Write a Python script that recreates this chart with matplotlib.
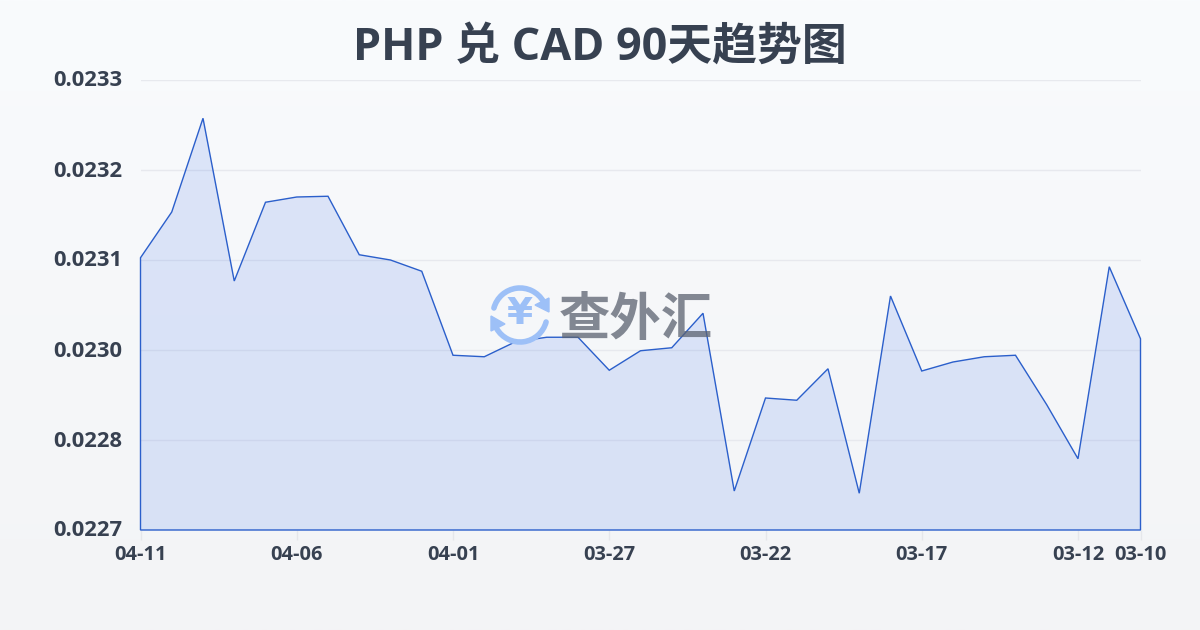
import numpy as np
import matplotlib
matplotlib.use('Agg')
import matplotlib.pyplot as plt
from matplotlib.patches import Arc, Polygon
from matplotlib.transforms import ScaledTranslation

plt.rcParams['font.family'] = ['Open Sans', 'Noto Sans CJK SC', 'DejaVu Sans']

dates = ['04-11', '04-10', '04-09', '04-08', '04-07', '04-06', '04-05', '04-04', '04-03', '04-02', '04-01',
         '03-31', '03-30', '03-29', '03-28', '03-27', '03-26', '03-25', '03-24', '03-23', '03-22',
         '03-21', '03-20', '03-19', '03-18', '03-17', '03-16', '03-15', '03-14', '03-13', '03-12',
         '03-11', '03-10']
rates = [0.023063, 0.023124, 0.023249, 0.023032, 0.023137, 0.023144, 0.023145, 0.023067, 0.023060,
         0.023045, 0.022933, 0.022931, 0.022951, 0.022957, 0.022957, 0.022913, 0.022939, 0.022943,
         0.022989, 0.022752, 0.022876, 0.022873, 0.022915, 0.022749, 0.023012, 0.022912, 0.022924,
         0.022931, 0.022933, 0.022867, 0.022795, 0.023051, 0.022955]
y_ticks = [0.0227, 0.02282, 0.02294, 0.02306, 0.02318, 0.0233]
y_labels = ['0.0227', '0.0228', '0.0230', '0.0231', '0.0232', '0.0233']
x_ticks = ['04-11', '04-06', '04-01', '03-27', '03-22', '03-17', '03-12', '03-10']

W, H = 1200, 630
fig = plt.figure(figsize=(W / 100, H / 100), dpi=100)

# page background
bg = fig.add_axes([0, 0, 1, 1], zorder=0)
top = np.array([0xf9, 0xfb, 0xfd]) / 255
bot = np.array([0xf3, 0xf4, 0xf6]) / 255
t = np.linspace(0, 1, 256)[:, None, None]
bg.imshow(top + (bot - top) * t, aspect='auto', extent=[0, W, H, 0])
bg.set_xlim(0, W)
bg.set_ylim(H, 0)
bg.axis('off')

# plot area 140..1140 x 80..530
ax = fig.add_axes([140.5 / W, 1 - 530 / H, 1000 / W, 450 / H], zorder=1)
ax.patch.set_alpha(0)
x = np.arange(len(rates))
ax.set_xlim(0, len(rates) - 1)
ax.set_ylim(0.0227, 0.0233)

ax.set_yticks(y_ticks)
ax.set_yticklabels(y_labels, fontsize=15.8, fontweight='bold', color='#374151')
ax.set_xticks([dates.index(d) for d in x_ticks])
ax.set_xticklabels(x_ticks, fontsize=14.4, fontweight='bold', color='#374151')
ax.tick_params(axis='y', length=0, pad=13)
ax.tick_params(axis='x', length=7, width=1, color='#e5e7eb', pad=4)
ax.grid(axis='y', color='#e7e9ee', lw=1)
ax.set_axisbelow(True)
for s in ax.spines.values():
    s.set_visible(False)
# nudge y labels up a little
nudge = ScaledTranslation(0, 1.5 / 100, fig.dpi_scale_trans)
for lab in ax.get_yticklabels():
    lab.set_transform(lab.get_transform() + nudge)

verts = [(0, 0.0227)] + list(zip(x, rates)) + [(x[-1], 0.0227)]
ax.add_patch(Polygon(verts, closed=True, facecolor='#3c70ec', alpha=0.15, edgecolor='none', zorder=2))
ax.add_patch(Polygon(verts, closed=True, facecolor='none', edgecolor='#2b5fcb', lw=1.0, zorder=3, clip_on=False))

# title
fig.text(600 / W, 1 - 48 / H, 'PHP 兑 CAD 90天趋势图', ha='center', va='center',
         fontsize=32.3, fontweight='bold', color='#374151')

# watermark
wm = fig.add_axes([0, 0, 1, 1], zorder=2)
wm.set_xlim(0, W)
wm.set_ylim(H, 0)
wm.axis('off')
wm.patch.set_alpha(0)
blue = '#9dc0f7'
wm.add_patch(Arc((520, 315), 54, 54, theta1=195, theta2=330, lw=4, color=blue, capstyle='round'))
wm.add_patch(Arc((520, 315), 54, 54, theta1=15, theta2=150, lw=4, color=blue, capstyle='round'))
wm.add_patch(Polygon([(549, 298), (549, 312), (535, 305)], closed=True, fc=blue, ec=blue, lw=1))
wm.add_patch(Polygon([(491, 316), (491, 331), (505, 324)], closed=True, fc=blue, ec=blue, lw=1))
wm.text(520, 314, '¥', ha='center', va='center', fontsize=27, fontweight='bold', color=blue,
        family=['DejaVu Sans'])
wm.text(636, 322, '查外汇', ha='center', va='center', fontsize=37, fontweight='bold',
        color='#5b6270', alpha=0.75)

fig.savefig('out.png', dpi=100)
